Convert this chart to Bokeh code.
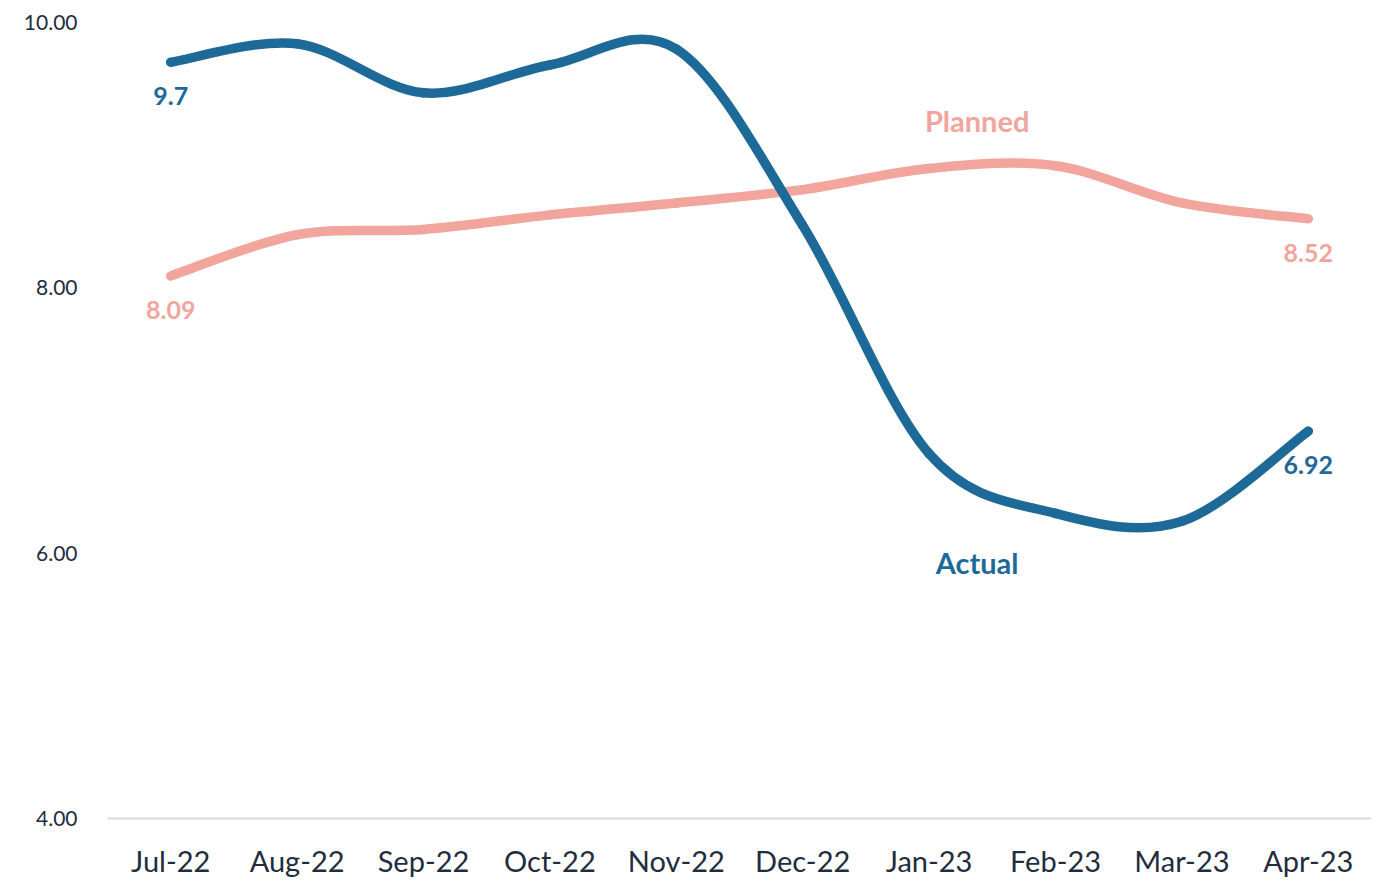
from bokeh.plotting import figure
from bokeh.models import ColumnDataSource, FixedTicker, Range1d
from bokeh.core.properties import value
from bokeh.embed import file_html
from bokeh.resources import INLINE

months = ["Jul-22", "Aug-22", "Sep-22", "Oct-22", "Nov-22", "Dec-22",
          "Jan-23", "Feb-23", "Mar-23", "Apr-23"]
actual = [9.70, 9.84, 9.47, 9.68, 9.80, 8.47, 6.75, 6.30, 6.24, 6.92]
planned = [8.09, 8.40, 8.44, 8.55, 8.64, 8.74, 8.90, 8.92, 8.64, 8.52]
y_ticks = [4, 6, 8, 10]

BLUE = "#1D6A99"
PINK = "#F2A59C"
FONT = "Lato"

p = figure(width=1384, height=881, output_backend="svg", toolbar_location=None,
           x_range=Range1d(-0.5, len(months) - 0.5), y_range=Range1d(4, 10),
           min_border_left=107, min_border_right=13, min_border_top=22,
           min_border_bottom=63)
p.outline_line_color = None
p.grid.visible = False
p.background_fill_color = "white"
p.border_fill_color = "white"


def smooth_segments(ys):
    n = len(ys)
    xs = list(range(n))
    pts = list(zip(xs, ys))
    d = dict(x0=[], y0=[], x1=[], y1=[], cx0=[], cy0=[], cx1=[], cy1=[])
    for i in range(n - 1):
        p0 = pts[i - 1] if i > 0 else pts[i]
        p1 = pts[i]
        p2 = pts[i + 1]
        p3 = pts[i + 2] if i + 2 < n else pts[i + 1]
        d["x0"].append(p1[0]); d["y0"].append(p1[1])
        d["x1"].append(p2[0]); d["y1"].append(p2[1])
        d["cx0"].append(p1[0] + (p2[0] - p0[0]) / 6.0)
        d["cy0"].append(p1[1] + (p2[1] - p0[1]) / 6.0)
        d["cx1"].append(p2[0] - (p3[0] - p1[0]) / 6.0)
        d["cy1"].append(p2[1] - (p3[1] - p1[1]) / 6.0)
    return ColumnDataSource(d)


for ys, col in ((planned, PINK), (actual, BLUE)):
    p.bezier(x0="x0", y0="y0", x1="x1", y1="y1", cx0="cx0", cy0="cy0",
             cx1="cx1", cy1="cy1", source=smooth_segments(ys),
             line_color=col, line_width=9.5, line_cap="round")

# end-point data labels
last = len(months) - 1
lab = ColumnDataSource(dict(
    x=[0, last, 0, last],
    y=[actual[0], actual[last], planned[0], planned[last]],
    t=[f"{actual[0]:g}", f"{actual[last]:.2f}", f"{planned[0]:.2f}", f"{planned[last]:.2f}"],
    c=[BLUE, BLUE, PINK, PINK],
))
p.text(x="x", y="y", text="t", text_color="c", source=lab,
       text_font=value(FONT), text_font_size="25px", text_font_style="bold",
       text_align="center", text_baseline="middle", y_offset=34)

# series name labels
name_x = [6.38, 6.38]
name_y = [9.26, 5.93]
names = ["Planned", "Actual"]
p.text(x=name_x, y=name_y, text=names, text_color=[PINK, BLUE],
       text_font=value(FONT), text_font_size="29px", text_font_style="bold",
       text_align="center", text_baseline="middle")

# axes
p.xaxis.ticker = FixedTicker(ticks=list(range(len(months))))
p.xaxis.major_label_overrides = {i: m for i, m in enumerate(months)}
p.xaxis.axis_line_color = "#D9D9D9"
p.xaxis.axis_line_width = 2
p.xaxis.major_tick_line_color = None
p.xaxis.minor_tick_line_color = None
p.xaxis.major_label_text_font = FONT
p.xaxis.major_label_text_font_size = "29px"
p.xaxis.major_label_text_color = "#1F2D3D"
p.xaxis.major_label_standoff = 18

p.yaxis.ticker = FixedTicker(ticks=y_ticks)
p.yaxis.major_label_overrides = {t: f"{t:.2f}" for t in y_ticks}
p.yaxis.axis_line_color = None
p.yaxis.major_tick_line_color = None
p.yaxis.minor_tick_line_color = None
p.yaxis.major_label_text_font = FONT
p.yaxis.major_label_text_font_size = "21px"
p.yaxis.major_label_text_color = "#1F2D3D"
p.yaxis.major_label_standoff = 24

open("out.html", "w").write(file_html(p, INLINE))
